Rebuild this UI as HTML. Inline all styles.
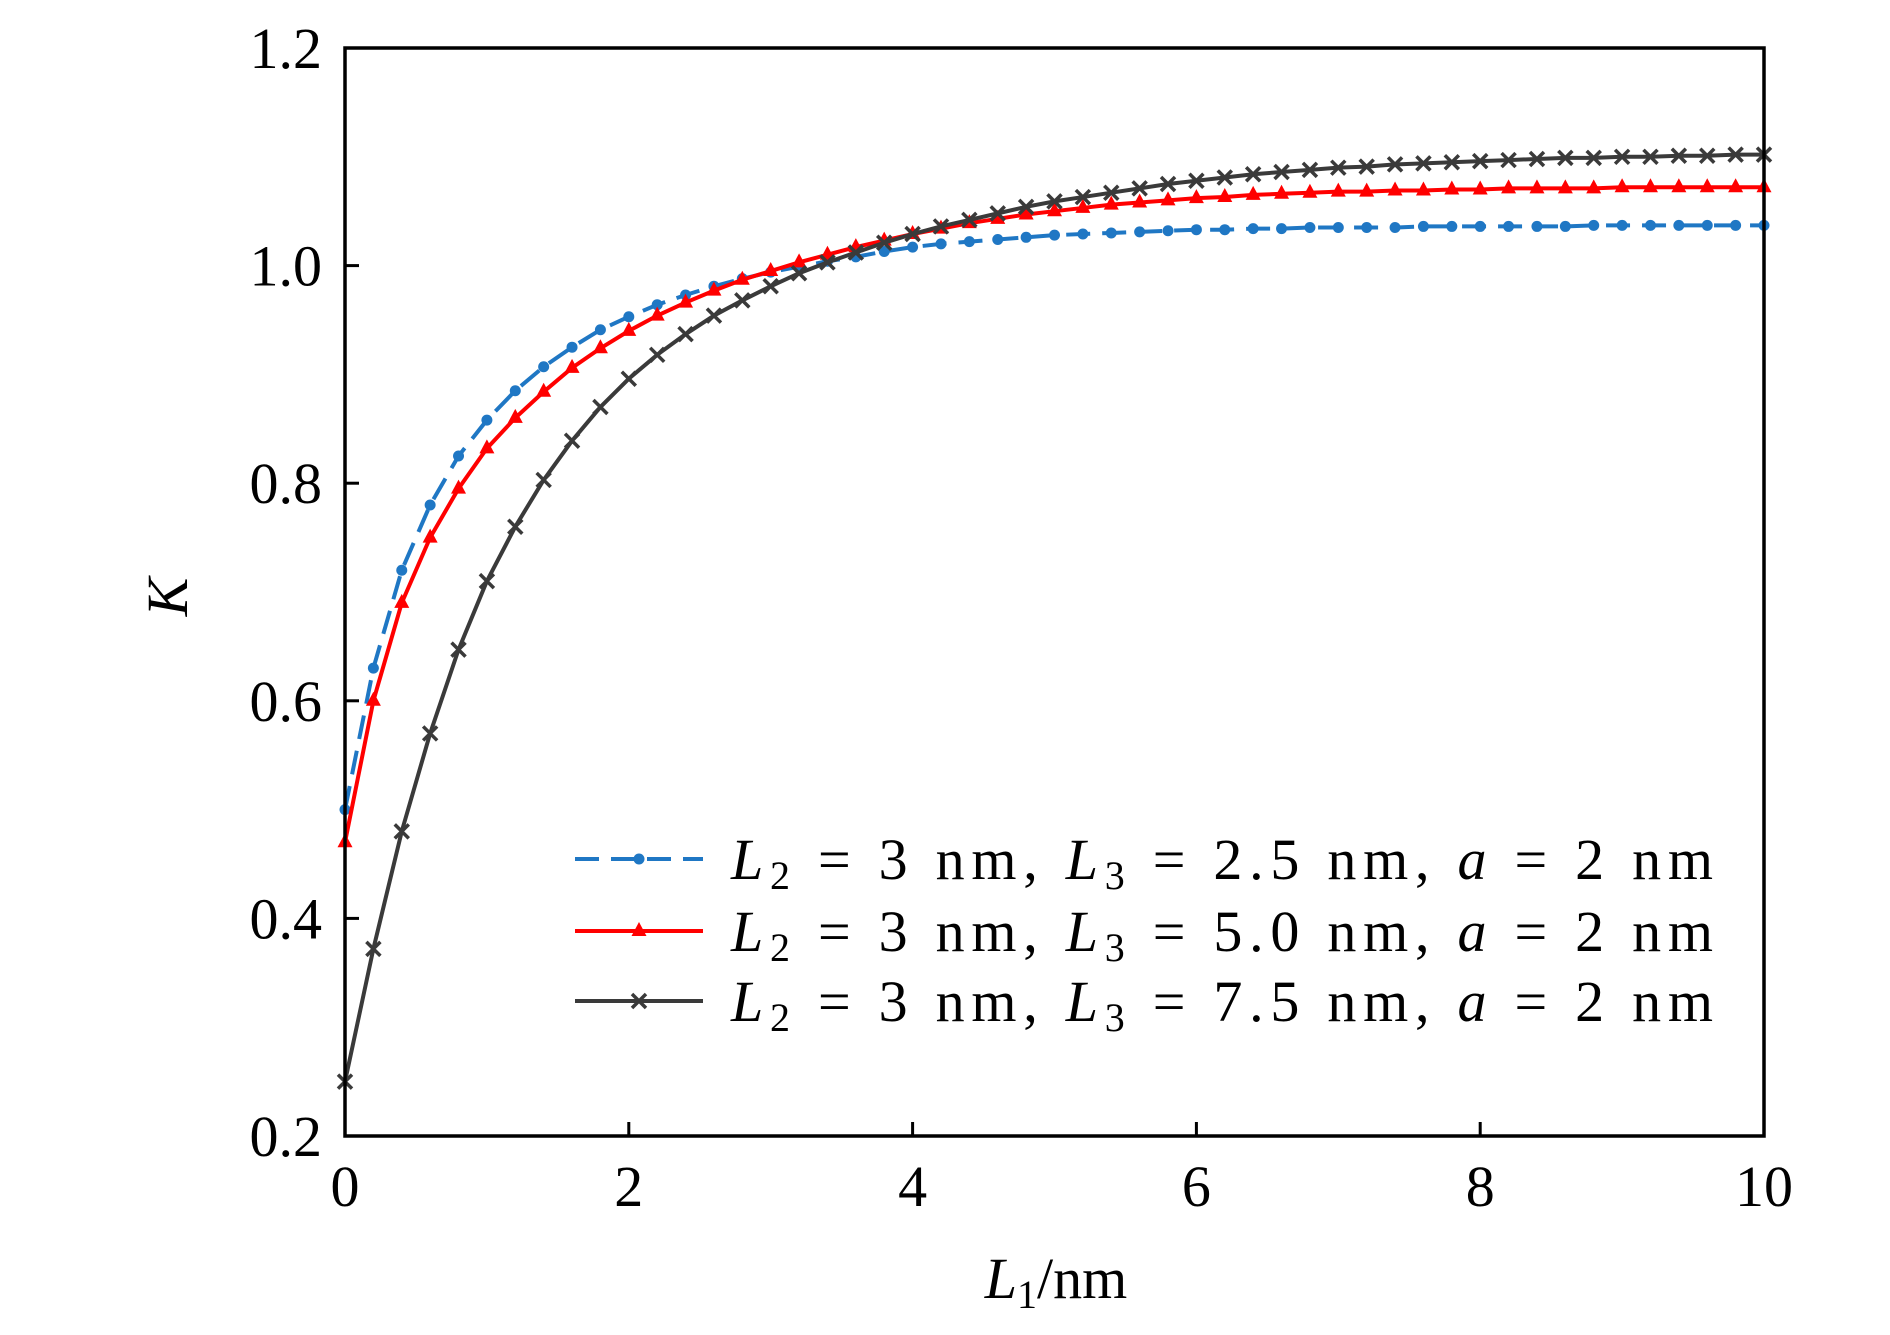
<!DOCTYPE html>
<html><head><meta charset="utf-8"><style>
html,body{margin:0;padding:0;background:#fff;}
svg{display:block;font-family:"Liberation Serif","DejaVu Serif",serif;}
</style></head><body>
<svg id="chart" width="1890" height="1335" viewBox="0 0 1890 1335" xmlns="http://www.w3.org/2000/svg">
<g id="series"></g>
<rect x="345" y="48" width="1419" height="1088" fill="none" stroke="#000" stroke-width="3.5"/>
<g id="ticks"></g>
<text transform="translate(187,597) rotate(-90)" text-anchor="middle" font-size="58" font-style="italic">K</text>
<text x="1056" y="1298" text-anchor="middle" font-size="58"><tspan font-style="italic">L</tspan><tspan font-size="40" dy="10">1</tspan><tspan dy="-10">/nm</tspan></text>
<g id="legend"></g>
</svg>
<script>
const xs = [0,0.2,0.4,0.6,0.8,1,1.2,1.4,1.6,1.8,2,2.2,2.4,2.6,2.8,3,3.2,3.4,3.6,3.8,4,4.2,4.4,4.6,4.8,5,5.2,5.4,5.6,5.8,6,6.2,6.4,6.6,6.8,7,7.2,7.4,7.6,7.8,8,8.2,8.4,8.6,8.8,9,9.2,9.4,9.6,9.8,10];
const blueVals = [0.50,0.63,0.72,0.78,0.825,0.858,0.885,0.907,0.925,0.941,0.953,0.964,0.973,0.981,0.988,0.994,0.999,1.004,1.008,1.013,1.017,1.020,1.022,1.024,1.026,1.028,1.029,1.030,1.031,1.032,1.033,1.033,1.034,1.034,1.035,1.035,1.035,1.035,1.036,1.036,1.036,1.036,1.036,1.036,1.037,1.037,1.037,1.037,1.037,1.037,1.037];
const redVals = [0.47,0.60,0.69,0.75,0.795,0.832,0.86,0.884,0.906,0.924,0.940,0.954,0.966,0.977,0.987,0.995,1.003,1.010,1.017,1.023,1.029,1.034,1.039,1.043,1.047,1.050,1.053,1.056,1.058,1.060,1.062,1.063,1.065,1.066,1.067,1.068,1.068,1.069,1.069,1.070,1.070,1.071,1.071,1.071,1.071,1.072,1.072,1.072,1.072,1.072,1.072];
const blackVals = [0.25,0.372,0.48,0.57,0.647,0.71,0.76,0.803,0.839,0.87,0.896,0.918,0.937,0.954,0.968,0.981,0.993,1.003,1.012,1.021,1.029,1.036,1.042,1.048,1.054,1.059,1.063,1.067,1.071,1.075,1.078,1.081,1.084,1.086,1.088,1.090,1.091,1.093,1.094,1.095,1.096,1.097,1.098,1.099,1.099,1.100,1.100,1.101,1.101,1.102,1.102];
const xTicks = [0,2,4,6,8,10];
const yTicks = [0.2,0.4,0.6,0.8,1.0,1.2];
const yTickLabels = ["0.2","0.4","0.6","0.8","1.0","1.2"];
const legendLabels = ["2.5","5.0","7.5"];

const NS="http://www.w3.org/2000/svg";
const X0=345,X1=1764,Y0=1136,Y1=48;
function sx(v){return X0+(v-0)/(10-0)*(X1-X0);}
function sy(v){return Y0-(v-0.2)/(1.2-0.2)*(Y0-Y1);}
function mk(tag,attrs,parent){const e=document.createElementNS(NS,tag);for(const k in attrs)e.setAttribute(k,attrs[k]);parent.appendChild(e);return e;}

const ticks=document.getElementById('ticks');
xTicks.forEach(v=>{
  const l=mk('line',{x1:sx(v),x2:sx(v),y1:Y0,y2:Y0-14,stroke:'#000','stroke-width':3},ticks);
  
  
  const t=mk('text',{x:sx(v),y:1206,'text-anchor':'middle','font-size':58},ticks);
  t.textContent=String(v);
  
  
});
yTicks.forEach((v,i)=>{
  const l=mk('line',{x1:X0,x2:X0+14,y1:sy(v),y2:sy(v),stroke:'#000','stroke-width':3},ticks);
  
  
  const t=mk('text',{x:322,y:sy(v)+20,'text-anchor':'end','font-size':58},ticks);
  t.textContent=yTickLabels[i];
  
  
});

const series=document.getElementById('series');
const defs=[
 {vals:blueVals,color:'#1f77c4',dash:'24,12',marker:'dot',name:'blue'},
 {vals:redVals,color:'#ff0000',dash:'',marker:'tri',name:'red'},
 {vals:blackVals,color:'#3a3a3a',dash:'',marker:'x',name:'black'}
];
function marker(type,x,y,color,g){
  let m;
  if(type==='dot'){m=mk('circle',{cx:x,cy:y,r:5.5,fill:color},g);}
  else if(type==='tri'){m=mk('polygon',{points:`${x},${y-9} ${x-7.5},${y+5} ${x+7.5},${y+5}`,fill:color},g);}
  else {m=mk('path',{d:`M${x-7},${y-7}L${x+7},${y+7}M${x-7},${y+7}L${x+7},${y-7}`,stroke:color,'stroke-width':3.5},g);}
  return m;
}
defs.forEach(d=>{
  const g=mk('g',{},series);
  
  
  const pts=xs.map((x,i)=>sx(x)+','+sy(d.vals[i])).join(' ');
  const pl=mk('polyline',{points:pts,fill:'none',stroke:d.color,'stroke-width':4,'stroke-dasharray':d.dash},g);
  
  
  xs.forEach((x,i)=>{
    const m=marker(d.marker,sx(x),sy(d.vals[i]),d.color,g);
    
    
  });
});

const legend=document.getElementById('legend');
const ly=[859,931,1001];
defs.forEach((d,i)=>{
  const g=mk('g',{},legend);
  
  
  mk('line',{x1:575,x2:703,y1:ly[i],y2:ly[i],stroke:d.color,'stroke-width':4,'stroke-dasharray':d.dash},g);
  marker(d.marker,639,ly[i],d.color,g);
  const t=mk('text',{x:731,y:ly[i]+20,'font-size':58,textLength:982,lengthAdjust:'spacing'},g);
  t.innerHTML='<tspan font-style="italic">L</tspan><tspan font-size="40" dy="10">2</tspan><tspan dy="-10"> = 3 nm, </tspan><tspan font-style="italic">L</tspan><tspan font-size="40" dy="10">3</tspan><tspan dy="-10"> = '+legendLabels[i]+' nm, </tspan><tspan font-style="italic">a</tspan><tspan> = 2 nm</tspan>';
  
  
});
</script>
</body></html>
